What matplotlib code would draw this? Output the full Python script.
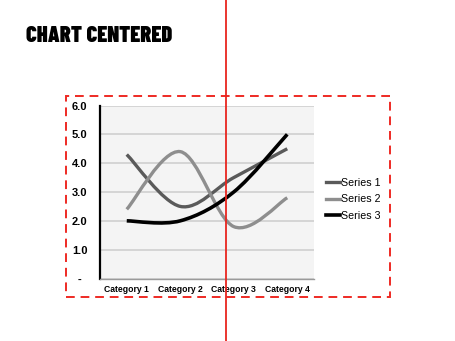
import matplotlib
matplotlib.use("Agg")
import matplotlib.pyplot as plt
from matplotlib.path import Path
from matplotlib.patches import PathPatch, Rectangle
from matplotlib.lines import Line2D

categories = ["Category 1", "Category 2", "Category 3", "Category 4"]
series_names = ["Series 1", "Series 2", "Series 3"]
series1 = [4.3, 2.5, 3.5, 4.5]
series2 = [2.4, 4.4, 1.8, 2.8]
series3 = [2.0, 2.0, 3.0, 5.0]
yticks = [0, 1, 2, 3, 4, 5, 6]
ytick_labels = ["-", "1.0", "2.0", "3.0", "4.0", "5.0", "6.0"]
title = "CHART CENTERED"

colors = ["#5a5a5a", "#8e8e8e", "#000000"]
widths = [2.4, 2.4, 2.6]

W, H = 455, 341
fig = plt.figure(figsize=(W / 100, H / 100), dpi=100)

def fx(px):
    return px / W

def fy(py):
    return 1 - py / H

ax_l, ax_r, ax_t, ax_b = 100, 314, 105.5, 278.5
ax = fig.add_axes([fx(ax_l), fy(ax_b), fx(ax_r - ax_l), (ax_b - ax_t) / H])
ax.set_facecolor("#f4f4f4")
ax.set_xlim(-0.5, 3.5)
ax.set_ylim(0, 6)

ax.set_yticks(yticks)
ax.set_yticklabels(ytick_labels, fontsize=8, fontweight="bold",
                   family=["Liberation Sans", "DejaVu Sans"], ha="center")
ax.set_xticks(range(len(categories)))
ax.set_xticklabels(categories, fontsize=6.2, fontweight="bold",
                   family=["Liberation Sans", "DejaVu Sans"])
ax.tick_params(axis="y", length=0, pad=14.5)
ax.tick_params(axis="x", length=0, pad=5)
ax.grid(axis="y", color="#cccccc", linewidth=1.1)
ax.set_axisbelow(True)
for s in ["top", "right"]:
    ax.spines[s].set_visible(False)
ax.spines["left"].set_color("black")
ax.spines["left"].set_linewidth(1.6)
ax.spines["bottom"].set_color("#9a9a9a")
ax.spines["bottom"].set_linewidth(1.0)


def smooth_path(ys):
    xs = list(range(len(ys)))
    pts = list(zip(xs, ys))
    n = len(pts)
    verts = [pts[0]]
    codes = [Path.MOVETO]
    for i in range(n - 1):
        p0 = pts[i - 1] if i > 0 else pts[i]
        p1 = pts[i]
        p2 = pts[i + 1]
        p3 = pts[i + 2] if i + 2 < n else pts[i + 1]
        c1 = (p1[0] + (p2[0] - p0[0]) / 6, p1[1] + (p2[1] - p0[1]) / 6)
        c2 = (p2[0] - (p3[0] - p1[0]) / 6, p2[1] - (p3[1] - p1[1]) / 6)
        verts += [c1, c2, p2]
        codes += [Path.CURVE4] * 3
    return Path(verts, codes)


handles = []
for ys, c, w, name in zip([series1, series2, series3], colors, widths, series_names):
    patch = PathPatch(smooth_path(ys), facecolor="none", edgecolor=c,
                      linewidth=w, capstyle="butt", joinstyle="round", zorder=3)
    ax.add_patch(patch)
    handles.append(Line2D([], [], color=c, linewidth=w))

fig.legend(handles, series_names, loc="center left",
           bbox_to_anchor=(fx(319), fy(199.5)), frameon=False,
           handlelength=1.3, handletextpad=0.05, labelspacing=0.62,
           borderpad=0.2,
           prop={"family": ["Liberation Sans", "DejaVu Sans"], "size": 7.7})

fig.text(fx(26), fy(41.5), title, fontsize=16.2, fontweight=900,
         family=["Barlow Condensed", "DejaVu Sans"], va="baseline",
         ha="left", color="black")

# dashed red frame around chart
fig.add_artist(Rectangle((fx(65.5), fy(297)), fx(389.5 - 65.5), (297 - 96) / H,
                         transform=fig.transFigure, fill=False,
                         edgecolor="#ee2a24", linewidth=1.4,
                         linestyle=(0, (4.5, 3)), zorder=10))
# vertical red center line
fig.add_artist(Line2D([fx(226), fx(226)], [0, 1], transform=fig.transFigure,
                      color="#e8251f", linewidth=1.3, zorder=11))

fig.savefig("out.png", dpi=100)
